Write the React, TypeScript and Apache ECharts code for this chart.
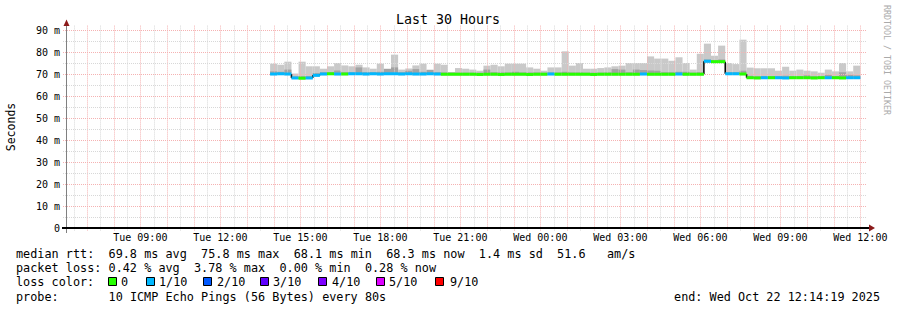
import React, { useEffect, useRef } from "react";
import * as echarts from "echarts";

// ---- time axis (hours since Tue 00:00) ----
const X_MIN = 6.25; // Tue 06:15
const X_MAX = 36.25; // Wed 12:15
const BIN_START = 13 + 52 / 60; // first data bin Tue 13:52
const BIN_HOURS = 16 / 60; // 16 minute consolidation

const xTickHours = [9, 12, 15, 18, 21, 24, 27, 30, 33, 36];
const xTickLabels = [
  "Tue 09:00", "Tue 12:00", "Tue 15:00", "Tue 18:00", "Tue 21:00",
  "Wed 00:00", "Wed 03:00", "Wed 06:00", "Wed 09:00", "Wed 12:00",
];
const yTicks = [0, 10, 20, 30, 40, 50, 60, 70, 80, 90];

// ---- per-bin values (ms) ----
const median = [
  70.0, 70.1, 70.0, 68.2, 68.1, 68.2, 69.4,
  70.0, 70.1, 70.0, 70.0, 70.1, 70.1, 70.0, 70.1, 70.0, 70.1, 70.1, 70.0, 70.1, 70.0,
  70.0, 70.1, 70.0, 69.9, 69.9, 69.9, 69.9, 69.9, 69.8, 69.9, 69.9, 69.8, 69.9, 69.9, 69.9, 69.8, 69.9, 69.9, 70.0, 69.9,
  69.9, 69.9, 69.9, 69.9, 69.8, 69.9, 69.9, 69.9, 69.9, 69.9, 69.9, 70.0, 69.9, 69.9, 69.9, 69.9, 70.0, 69.9, 69.9, 69.9,
  75.8, 75.6, 75.6,
  70.1, 70.1, 70.0,
  68.3, 68.2, 68.3, 68.3, 68.3, 68.2, 68.3, 68.3, 68.3, 68.2, 68.3, 68.3, 68.3, 68.2, 68.3, 68.3,
];
const lossTenths = [
  1, 1, 1, 1, 0, 1, 1, 1, 0, 1, 0,
  1, 1, 1, 1, 1, 1, 1, 1, 1, 1, 1, 1, 1,
  0, 0, 0, 0, 0, 0, 0, 0, 0, 0, 0, 0, 0, 0, 0,
  1,
  0, 0, 0, 0, 0, 0, 0, 0, 0, 0, 0, 0,
  1,
  0, 0, 0, 0,
  1,
  0, 0, 0,
  1,
  0, 0,
  1, 1,
  0, 0, 0,
  1, 0, 1, 1,
  0, 0, 0, 0, 0,
  1, 0, 0, 1, 1,
];
const smokeMax = [
  74.7, 74.2, 75.6, 70.2, 75.6, 73.5, 73.5, 72.4, 73.5, 75.0,
  73.9, 73.5, 74.2, 73.0, 72.4, 74.7, 72.4, 78.8, 72.0, 72.5,
  73.9, 74.7, 72.0, 74.7, 74.2, 70.9, 72.7, 72.4, 72.0, 71.5,
  73.8, 74.2, 73.5, 74.7, 74.7, 74.7, 73.0, 72.4, 71.5, 73.0,
  73.0, 80.3, 73.8, 75.0, 72.4, 72.4, 72.7, 73.0, 73.5, 73.8,
  75.0, 75.0, 75.0, 78.0, 77.0, 77.0, 76.0, 77.6, 75.0, 72.0,
  79.2, 83.8, 78.3, 82.9, 75.0, 74.5, 85.6, 72.9, 72.6, 72.6,
  72.6, 71.5, 73.3, 71.5, 72.0, 71.5, 71.2, 70.6, 72.0, 71.2,
  75.0, 71.2, 73.8,
];
const smokeDark = [
  71.2, 71.0, 72.0, 68.9, 69.0, 69.0, 70.4, 70.8, 70.8, 71.6,
  70.8, 70.8, 73.0, 70.8, 70.8, 71.0, 72.3, 73.0, 70.8, 71.5,
  72.2, 71.0, 71.8, 70.8, 70.7, 70.6, 70.6, 70.6, 70.6, 70.6,
  72.0, 70.8, 70.7, 70.7, 71.0, 70.7, 70.7, 70.7, 70.6, 70.7,
  70.7, 71.0, 70.7, 70.7, 70.6, 70.6, 70.6, 70.7, 72.2, 72.0,
  70.8, 72.0, 71.8, 71.6, 71.5, 70.8, 70.8, 71.0, 71.0, 70.6,
  70.8, 76.6, 76.3, 76.6, 70.8, 70.8, 71.5, 69.2, 69.0, 69.0,
  69.0, 69.0, 69.2, 69.0, 69.0, 69.4, 69.0, 69.0, 69.6, 69.0,
  70.8, 69.6, 69.4,
];
const smokeMin = [
  69.5, 69.6, 69.5, 67.7, 67.6, 67.7, 68.9, 69.5, 69.6, 69.5,
  69.5, 69.6, 69.6, 69.5, 69.6, 69.5, 69.6, 69.6, 69.5, 69.6,
  69.5, 69.5, 69.6, 69.5, 69.4, 69.4, 69.4, 69.4, 69.4, 69.3,
  69.4, 69.4, 69.3, 69.4, 69.4, 69.4, 69.3, 69.4, 69.4, 69.5,
  69.4, 69.4, 69.4, 69.4, 69.4, 69.3, 69.4, 69.4, 69.4, 69.4,
  69.4, 69.4, 69.5, 69.4, 69.4, 69.4, 69.4, 69.5, 69.4, 69.4,
  69.4, 75.2, 75.1, 75.1, 69.6, 69.6, 69.5, 67.8, 67.7, 67.8,
  67.8, 67.8, 67.7, 67.8, 67.8, 67.8, 67.7, 67.8, 67.8, 67.8,
  67.7, 67.8, 67.8,
];

// ---- legend / stats text ----
const lossColors = ["#26ff00", "#00b8ff", "#0059ff", "#5e00ff", "#7e00ff", "#dd00ff", "#ff0000"];
const lossLabels = ["0", "1/10", "2/10", "3/10", "4/10", "5/10", "9/10"];
const lossColorByTenths: Record<number, string> = { 0: "#26ff00", 1: "#00b8ff", 2: "#0059ff", 3: "#5e00ff", 4: "#7e00ff", 5: "#dd00ff", 9: "#ff0000" };

const rttAvg = "69.8", rttMax = "75.8", rttMin = "68.1", rttNow = "68.3", rttSd = "1.4", rttAmS = "51.6";
const lossAvg = "0.42", lossMax = "3.78", lossMin = "0.00", lossNow = "0.28";
const probeText = "10 ICMP Echo Pings (56 Bytes) every 80s";
const endText = "end: Wed Oct 22 12:14:19 2025";
const titleText = "Last 30 Hours";

const MONO = '"DejaVu Sans Mono", "Liberation Mono", monospace';

// styling constants
const TXT_X0 = 16;
const CHAR_W = 7.12;
const squareX = [108, 146, 203, 260, 318, 376, 435];
const labelX = [121, 159, 217, 273, 332, 389, 450];

function monoLine(line: string, y: number): any[] {
  const out: any[] = [];
  const re = /\S+/g;
  let m: RegExpExecArray | null;
  while ((m = re.exec(line))) {
    out.push({
      type: "text",
      x: TXT_X0 + m.index * CHAR_W,
      y,
      silent: true,
      style: {
        text: m[0],
        fill: "#000",
        font: `11.8px ${MONO}`,
        textAlign: "left",
        textVerticalAlign: "middle",
      },
    });
  }
  return out;
}

export default function App() {
  const ref = useRef<HTMLDivElement>(null);

  useEffect(() => {
    if (!ref.current) return;
    const chart = echarts.init(ref.current, null, { renderer: "svg" });

    const bins = median.map((m, i) => {
      const t0 = BIN_START + i * BIN_HOURS;
      return { t0, t1: t0 + BIN_HOURS, m, loss: lossTenths[i], lo: smokeMin[i], hi: smokeMax[i], dk: smokeDark[i] };
    });

    const smokeData = bins.map((b) => [b.t0, b.t1, b.lo, b.hi, b.dk]);
    const stepData = bins.slice(1).map((b, i) => [b.t0, bins[i].m, b.m]);
    const medData = bins.map((b) => [b.t0, b.t1, b.m, b.loss]);

    const vGrid: number[][] = [];
    for (let h = Math.ceil(X_MIN * 2) / 2; h <= X_MAX; h += 0.5) vGrid.push([h, Number.isInteger(h) ? 1 : 0]);
    const hGrid: number[][] = [];
    for (let v = 5; v <= 90; v += 5) hGrid.push([v, v % 10 === 0 ? 1 : 0]);

    const MAJOR = "#f5b2b2";
    const MINOR = "#d8d8d8";

    const legendEls: any[] = [];
    lossColors.forEach((c, i) => {
      legendEls.push({
        type: "rect",
        shape: { x: squareX[i] + 0.5, y: 277.5, width: 8, height: 8 },
        style: { fill: c, stroke: "#000", lineWidth: 1 },
        silent: true,
      });
      legendEls.push({
        type: "text",
        x: labelX[i],
        y: 282,
        silent: true,
        style: { text: lossLabels[i], fill: "#000", font: `11.8px ${MONO}`, textAlign: "left", textVerticalAlign: "middle" },
      });
    });

    const line1 = `median rtt:  ${rttAvg} ms avg  ${rttMax} ms max  ${rttMin} ms min  ${rttNow} ms now  ${rttSd} ms sd  ${rttAmS}   am/s`;
    const line2 = `packet loss: ${lossAvg} % avg  ${lossMax} % max  ${lossMin} % min  ${lossNow} % now`;
    const line3 = `loss color:`;
    const line4 = `probe:       ${probeText}`;

    const option: any = {
      animation: false,
      backgroundColor: "#ffffff",
      grid: { left: 67, top: 25.6, width: 800, height: 202.4, containLabel: false, outerBoundsMode: "none" },
      xAxis: {
        type: "value",
        min: X_MIN,
        max: X_MAX,
        axisLine: { show: false },
        axisTick: { show: false },
        splitLine: { show: false },
        axisLabel: {
          customValues: xTickHours,
          formatter: (v: number) => {
            const i = xTickHours.findIndex((h) => Math.abs(h - v) < 1e-6);
            return i >= 0 ? xTickLabels[i] : "";
          },
          fontFamily: MONO,
          fontSize: 10,
          color: "#000",
          margin: 4,
          showMinLabel: true,
          showMaxLabel: true,
        },
      },
      yAxis: {
        type: "value",
        min: 0,
        max: 92,
        interval: 10,
        axisLine: { show: false },
        axisTick: { show: false },
        splitLine: { show: false },
        axisLabel: {
          formatter: (v: number) => {
            if (!yTicks.includes(v)) return "";
            return v === 0 ? "0" : `${v} m`;
          },
          fontFamily: MONO,
          fontSize: 10,
          color: "#000",
          margin: 7,
        },
      },
      series: [
        {
          type: "custom",
          name: "smoke",
          z: 1,
          silent: true,
          data: smokeData,
          renderItem: (_p: any, api: any) => {
            const a = api.coord([api.value(0), api.value(3)]);
            const b = api.coord([api.value(1), api.value(2)]);
            const d = api.coord([api.value(0), api.value(4)]);
            return {
              type: "group",
              children: [
                { type: "rect", shape: { x: a[0], y: a[1], width: b[0] - a[0], height: b[1] - a[1] }, style: { fill: "#c9c9c9" } },
                { type: "rect", shape: { x: a[0], y: d[1], width: b[0] - a[0], height: b[1] - d[1] }, style: { fill: "#a3a3a3" } },
              ],
            };
          },
        },
        {
          type: "custom",
          name: "vgrid",
          z: 2,
          silent: true,
          data: vGrid,
          renderItem: (_p: any, api: any) => {
            const h = api.value(0);
            const top = api.coord([h, 92]);
            const bot = api.coord([h, 0]);
            const x = Math.round(top[0]) + 0.5;
            return {
              type: "line",
              shape: { x1: x, y1: top[1], x2: x, y2: bot[1] + 3 },
              style: { stroke: api.value(1) ? MAJOR : MINOR, lineWidth: 1, lineDash: [1, 1] },
            };
          },
        },
        {
          type: "custom",
          name: "hgrid",
          z: 2,
          silent: true,
          data: hGrid,
          renderItem: (_p: any, api: any) => {
            const v = api.value(0);
            const l = api.coord([X_MIN, v]);
            const r = api.coord([X_MAX, v]);
            const y = Math.round(l[1]) + 0.5;
            return {
              type: "line",
              shape: { x1: l[0] - 4, y1: y, x2: r[0], y2: y },
              style: { stroke: api.value(1) ? MAJOR : MINOR, lineWidth: 1, lineDash: [1, 1] },
            };
          },
        },
        {
          type: "custom",
          name: "steps",
          z: 3,
          silent: true,
          data: stepData,
          renderItem: (_p: any, api: any) => {
            const a = api.coord([api.value(0), api.value(1)]);
            const b = api.coord([api.value(0), api.value(2)]);
            return {
              type: "line",
              shape: { x1: a[0], y1: a[1], x2: b[0], y2: b[1] },
              style: { stroke: "#000", lineWidth: 1.5 },
            };
          },
        },
        {
          type: "custom",
          name: "median",
          z: 4,
          silent: true,
          data: medData,
          renderItem: (_p: any, api: any) => {
            const a = api.coord([api.value(0), api.value(2)]);
            const b = api.coord([api.value(1), api.value(2)]);
            return {
              type: "rect",
              shape: { x: a[0], y: a[1] - 1.5, width: b[0] - a[0], height: 3 },
              style: { fill: lossColorByTenths[api.value(3)] || "#26ff00" },
            };
          },
        },
      ],
      graphic: [
        {
          type: "text",
          x: 448,
          y: 19,
          silent: true,
          style: { text: titleText, fill: "#000", font: `13.3px ${MONO}`, textAlign: "center", textVerticalAlign: "middle" },
        },
        {
          type: "text",
          x: 11,
          y: 127,
          rotation: Math.PI / 2,
          silent: true,
          style: { text: "Seconds", fill: "#000", font: `11.5px ${MONO}`, textAlign: "center", textVerticalAlign: "middle" },
        },
        {
          type: "text",
          x: 887,
          y: 5,
          rotation: -Math.PI / 2,
          silent: true,
          style: { text: "RRDTOOL / TOBI OETIKER", fill: "#aaaaaa", font: `8.3px ${MONO}`, textAlign: "left", textVerticalAlign: "middle" },
        },
        // axes
        { type: "line", silent: true, z: 10, shape: { x1: 66.5, y1: 233, x2: 66.5, y2: 23 }, style: { stroke: "#808080", lineWidth: 1 } },
        { type: "line", silent: true, z: 10, shape: { x1: 62, y1: 228, x2: 870, y2: 228 }, style: { stroke: "#000", lineWidth: 2 } },
        { type: "polygon", silent: true, z: 11, shape: { points: [[869, 224.5], [875, 228], [869, 231.5]] }, style: { fill: "#8b1a1a" } },
        { type: "polygon", silent: true, z: 11, shape: { points: [[63.5, 26], [66.5, 19.5], [69.5, 26]] }, style: { fill: "#8b1a1a" } },
        ...monoLine(line1, 253.5),
        ...monoLine(line2, 268),
        ...monoLine(line3, 282),
        ...legendEls,
        ...monoLine(line4, 296.5),
        {
          type: "text",
          x: 880,
          y: 296.5,
          silent: true,
          style: { text: endText, fill: "#000", font: `11.8px ${MONO}`, textAlign: "right", textVerticalAlign: "middle" },
        },
      ],
    };

    chart.setOption(option);
    return () => chart.dispose();
  }, []);

  return (
    <div
      ref={ref}
      style={{ position: "fixed", left: 0, top: 0, width: 897, height: 310, background: "#fff" }}
    />
  );
}
